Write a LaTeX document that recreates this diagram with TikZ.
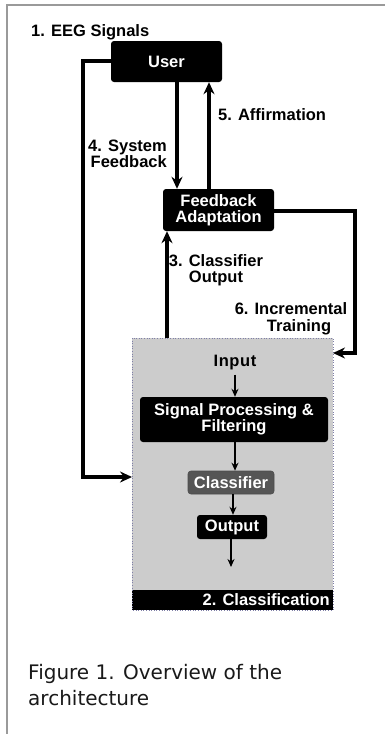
\documentclass[tikz,border=0pt]{standalone}
\usepackage{fontspec}
\setmainfont{Liberation Sans}
\newfontfamily\capfont{DejaVu Sans}
\usetikzlibrary{arrows.meta}
\definecolor{framegray}{HTML}{9A9A9A}
\definecolor{regiongray}{HTML}{CCCCCC}
\definecolor{dotblue}{HTML}{8080A8}
\definecolor{clsgray}{HTML}{555555}
\tikzset{
  blackbox/.style={fill=black, rounded corners=3pt, text=white, font=\fontsize{16.5}{16.5}\selectfont\bfseries, align=center, inner sep=0pt},
  lbl/.style={font=\fontsize{16.5}{16.5}\selectfont\bfseries, inner sep=0pt},
  thickarrow/.style={line width=4pt, -{Stealth[length=12pt,width=11pt]}},
  thinarrow/.style={line width=2pt, -{Stealth[length=8pt,width=7pt]}}
}
\begin{document}
\begin{tikzpicture}[x=1pt,y=-1pt]
\useasboundingbox (0,0) rectangle (385,734);
\fill[white] (0,0) rectangle (385,734);
\draw[framegray, line width=1.5pt] (7,734) -- (7,5) -- (385,5);

% classification region
\fill[regiongray] (132,338) rectangle (333,610);
\fill[black] (132,590) rectangle (333,610);
\draw[dotblue, line width=0.6pt, dotted] (132,338) rectangle (333,610);
\node[anchor=east, text=white, lbl] (clslabel) at (330,600) {2. Classification};
\coordinate (clsTopL) at (167,338);
\coordinate (clsLeft) at (132,477);
\coordinate (clsRight) at (333,353);

% main nodes
\node[blackbox, minimum width=111pt, minimum height=41pt] (user) at (166.5,61.5) {User};
\node[blackbox, minimum width=111pt, minimum height=42pt] (fa) at (218.5,210) {Feedback\\Adaptation};

\node[lbl, anchor=west] (eeg) at (31,32) {1. EEG Signals};
\node[lbl, anchor=west] (aff) at (218,115) {5. Affirmation};
\node[lbl, anchor=east, align=right] (sysfb) at (167,154) {4. System\\Feedback};
\node[lbl, align=center] (clsout) at (216,270) {3. Classifier\\Output};
\node[lbl, align=center] (inctr) at (291,319) {6. Incremental\\\hspace*{16pt}Training};

% loop connectors
\coordinate (eegA) at (83,61);
\coordinate (eegB) at (83,477);
\draw[thickarrow] (user.west |- eegA) -- (eegA) -- (eegB) -- (clsLeft);
\draw[thickarrow] (user.south -| 177,0) -- (fa.north -| 177,0);
\draw[thickarrow] (fa.north -| 209,0) -- (user.south -| 209,0);
\coordinate (incA) at (355,211);
\coordinate (incB) at (355,353);
\draw[thickarrow] (fa.east |- incA) -- (incA) -- (incB) -- (clsRight);
\draw[thickarrow] (clsTopL) -- (fa.south -| clsTopL);

% inner pipeline
\node[font=\fontsize{16.5}{17}\selectfont\bfseries\addfontfeature{LetterSpace=4}, inner sep=0pt] (input) at (235,363) {Input};
\node[blackbox, minimum width=188pt, minimum height=45pt] (spf) at (234,419.5) {Signal Processing \&\\Filtering};
\node[blackbox, fill=clsgray, draw=black!70, line width=0.6pt, minimum width=86pt, minimum height=23pt] (cls) at (231,482.5) {Classifier};
\node[blackbox, minimum width=70pt, minimum height=24pt] (out) at (232,527) {Output};
\coordinate (outEnd) at (231,567);
\draw[thinarrow] (input.south -| 235,0) ++(0,4) -- (spf.north -| 235,0);
\draw[thinarrow] (spf.south -| 235,0) -- (cls.north -| 235,0);
\draw[thinarrow] (cls.south -| 233,0) -- (out.north -| 233,0);
\draw[thinarrow] (out.south -| 231,0) -- (outEnd);

% caption
\node[anchor=west, align=left, text=black!90, font=\capfont\fontsize{20}{26}\selectfont, inner sep=0pt] (cap) at (28,685) {Figure 1. Overview of the\\architecture};
\end{tikzpicture}
\end{document}
